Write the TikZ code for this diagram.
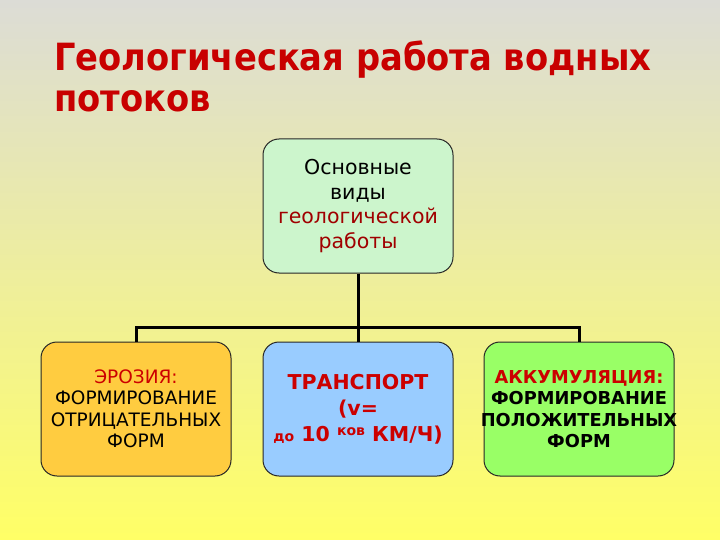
\documentclass[tikz,border=0pt]{standalone}
\usepackage{fontspec}
\setmainfont{DejaVu Sans}
\newfontfamily\titlefont{DejaVu Sans}[FakeStretch=0.9]
\usetikzlibrary{positioning,calc}
\definecolor{gtitle}{RGB}{200,0,0}
\definecolor{gred}{RGB}{204,0,0}
\definecolor{gdark}{RGB}{160,0,0}
\definecolor{gmint}{RGB}{204,245,204}
\definecolor{gorange}{RGB}{255,204,64}
\definecolor{gblue}{RGB}{153,204,255}
\definecolor{ggreen}{RGB}{153,255,102}
\definecolor{gtop}{RGB}{220,220,214}
\definecolor{gbottom}{RGB}{255,255,102}

\begin{document}
\begin{tikzpicture}[x=1pt,y=1pt,node distance=31pt,
    kind/.style={draw=black!85,line width=1pt,rounded corners=16pt,minimum width=190pt,minimum height=134pt,align=center,inner xsep=1pt,inner ysep=2pt},
    link/.style={line width=3pt,black}]
  \shade[top color=gtop,bottom color=gbottom] (0,0) rectangle (720,-540);
  \node[anchor=north west,align=left,inner sep=0,font=\titlefont\bfseries\fontsize{37.5}{41}\selectfont,text=gtitle] (title) at (54,-41) {Геологическая работа водных\\потоков};
  \node[kind,fill=gmint,font=\fontsize{20.5}{24.5}\selectfont] (main) at (358,-206) {Основные\\виды\\\textcolor{gdark}{геологической}\\\textcolor{gdark}{работы}};
  \node[kind,fill=gblue,font=\bfseries\fontsize{20.5}{26}\selectfont,text=gred,below=68pt of main] (transport) {ТРАНСПОРТ\\(v=\\{\fontsize{14}{14}\selectfont до} 10 \raisebox{6pt}{\fontsize{14}{14}\selectfont ков} КМ/Ч)};
  \node[kind,fill=gorange,font=\fontsize{18.5}{21.5}\selectfont,left=of transport] (erosion) {\textcolor{gred}{ЭРОЗИЯ:}\\ФОРМИРОВАНИЕ\\ОТРИЦАТЕЛЬНЫХ\\ФОРМ};
  \node[kind,fill=ggreen,font=\bfseries\fontsize{17.8}{21.5}\selectfont,right=30pt of transport] (accum) {\textcolor{gred}{АККУМУЛЯЦИЯ:}\\ФОРМИРОВАНИЕ\\\makebox[170pt]{ПОЛОЖИТЕЛЬНЫХ}\\ФОРМ};
  \coordinate (bar) at ([yshift=14pt]transport.north);
  \draw[link] (main.south) -- (transport.north);
  \draw[link] (erosion.north) |- (bar) -| (accum.north);
\end{tikzpicture}
\end{document}
